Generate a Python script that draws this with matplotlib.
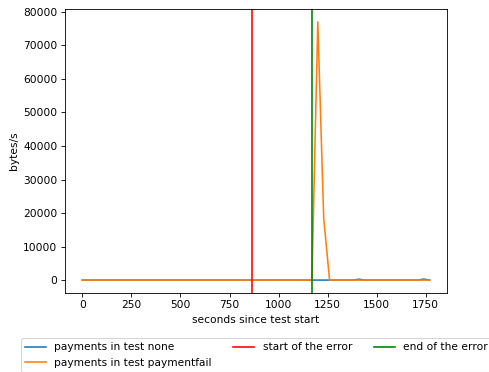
import matplotlib
matplotlib.use("Agg")
import matplotlib.pyplot as plt

# sample times (s since test start) and measured throughput
seconds = [0, 30, 60, 90, 120, 150, 180, 210, 240, 270,
           300, 330, 360, 390, 420, 450, 480, 510, 540, 570,
           600, 630, 660, 690, 720, 750, 780, 810, 840, 870,
           900, 930, 960, 990, 1020, 1050, 1080, 1110, 1140, 1170,
           1200, 1230, 1260, 1290, 1320, 1350, 1380, 1410, 1440, 1470,
           1500, 1530, 1560, 1590, 1620, 1650, 1680, 1710, 1740, 1770]

none_bytes = [0, 0, 0, 0, 0, 0, 0, 0, 0, 0,
              0, 0, 0, 0, 0, 0, 0, 0, 0, 0,
              0, 0, 0, 0, 0, 0, 0, 0, 0, 0,
              0, 0, 0, 0, 0, 0, 0, 0, 0, 0,
              0, 0, 0, 0, 0, 0, 0, 250, 0, 0,
              0, 0, 0, 0, 0, 0, 0, 0, 300, 0]

paymentfail_bytes = [0, 0, 0, 0, 0, 0, 0, 0, 0, 0,
                     0, 0, 0, 0, 0, 0, 0, 0, 0, 0,
                     0, 0, 0, 0, 0, 0, 0, 0, 0, 0,
                     0, 0, 0, 0, 0, 0, 0, 0, 0, 0,
                     77000, 18500, 0, 0, 0, 0, 0, 0, 0, 0,
                     0, 0, 0, 0, 0, 0, 0, 0, 0, 0]

error_start = 866
error_end = 1168

W, H = 489, 372
fig = plt.figure(figsize=(6.4, 6.4 * H / W), dpi=W / 6.4)
ax = fig.add_axes([65 / W, 1 - 293 / H, 382 / W, 284 / H])

ax.plot(seconds, none_bytes, label="payments in test none")
ax.plot(seconds, paymentfail_bytes, label="payments in test paymentfail")
ax.axvline(error_start, color="red", label="start of the error")
ax.axvline(error_end, color="green", label="end of the error")

ax.set_xlabel("seconds since test start")
ax.set_ylabel("bytes/s")

# legend sits under the axes, three columns
fig.legend(loc="upper left", bbox_to_anchor=(20.5 / W, 1 - 338 / H),
           borderaxespad=0, ncol=3)

fig.savefig("out.png", dpi=W / 6.4)
